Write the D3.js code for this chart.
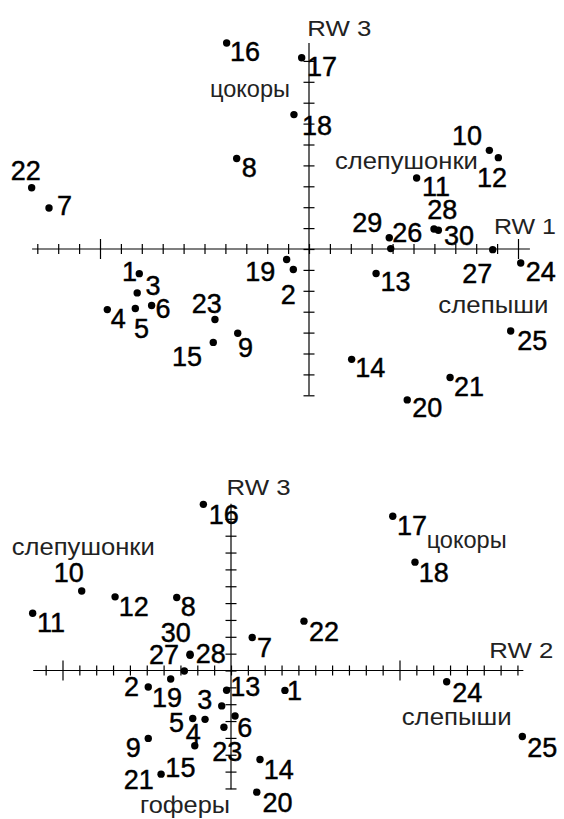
<!DOCTYPE html>
<html>
<head>
<meta charset="utf-8">
<script src="https://cdn.jsdelivr.net/npm/d3@7"></script>
<style>
  html, body { margin: 0; padding: 0; background: #fff; }
  svg { display: block; }
</style>
</head>
<body>
<svg id="chart" width="564" height="819"></svg>
<script>
// ---------------- DATA ----------------
const ids = [1,2,3,4,5,6,7,8,9,10,11,12,13,14,15,16,17,18,19,20,21,22,23,24,25,26,27,28,29,30];
// RW1 (top panel, horizontal)
const rw1 = [-8.12,-0.75,-8.22,-9.65,-8.31,-7.53,-12.44,-3.46,-3.41,8.63,5.15,9.06,3.21,2.04,-4.58,-3.94,-0.35,-0.72,-1.07,4.70,6.75,-13.27,-4.50,10.13,9.65,3.91,8.79,5.98,3.84,6.19];
// RW2 (bottom panel, horizontal); null = not shown
const rw2 = [3.20,-4.91,-0.55,-1.54,-2.27,0.24,1.26,-3.22,-4.91,-8.86,-11.77,-6.88,-0.26,1.72,-2.15,-1.64,9.60,10.92,-3.58,1.53,-4.15,4.33,-0.42,12.80,17.29,null,-2.77,-2.43,null,-2.43];
// RW3 (vertical in both panels)
const rw3 = [-1.18,-0.98,-2.10,-2.90,-2.85,-2.70,1.96,4.33,-4.03,4.72,3.40,4.37,-1.17,-5.28,-4.47,9.86,9.15,6.43,-0.50,-7.22,-6.15,2.93,-3.37,-0.67,-3.92,0.02,-0.03,0.96,0.54,0.90];

// axis tick values
const topXTicks = d3.range(-13, 11);
const topYTicks = d3.range(-7, 10);
const botXTicks = d3.range(-11, 18);
const botYTicks = d3.range(-7, 10);
const majorTicks = [-10, 10];

// group / axis annotations
const topNoteText = ["RW 3", "RW 1", "цокоры", "слепушонки", "слепыши"];
const topNoteX    = [-0.08, 8.85, -4.74, 1.24, 6.19];
const topNoteY    = [10.19, 0.72, 7.29, 3.81, -3.06];
const botNoteText = ["RW 3", "RW 2", "слепушонки", "цокоры", "слепыши", "гоферы"];
const botNoteX    = [-0.26, 15.33, -13.01, 11.61, 10.13, -5.40];
const botNoteY    = [10.42, 0.72, 6.85, 7.25, -3.23, -8.47];

// ---------------- LAYOUT ----------------
const noteWidth = {"RW 3":64, "RW 1":62, "RW 2":64, "цокоры":80, "слепушонки":143, "слепыши":110, "гоферы":90};

// label nudges (px, relative to the dot)
const topNudge = [[-17.3,7.7],[-12.6,34.3],[8.4,1.7],[3.4,18.3],[-1.3,29],[4,13],[8,6.7],[5,18.7],[0.3,24],[-37.3,-5.7],
  [5.3,18.4],[-21.3,29.4],[4.3,17.4],[3.6,17.3],[-41.3,24],[3.3,18.4],[5.3,18.4],[8,20],[-41.4,21.7],[5,17.3],
  [4,18.4],[-21,-7.6],[-23.3,-6.7],[5,18.4],[6.6,19],[1.6,-6.8],[-30.4,33.3],[-6.7,-10],[-37,-6],[5.7,15]];
const botNudge = [[2,10],[-24.3,9],[-24.4,2.7],[-19.3,23.4],[-23.7,13],[2.3,21.4],[4.7,19.4],[4,18.3],[-22.6,19],[-28,-9],
  [4.3,19],[3.7,19.4],[3.6,5.7],[3.7,20],[-29.4,30.7],[5.4,19.3],[4.3,19],[3.7,20],[-18.7,28.4],[5.6,20],
  [-37.3,15],[5,20],[-11.7,33.3],[5.6,20],[5,20],null,[-35.3,-7.4],[5.7,8.4],null,[-29.3,-13.3]];

const svg = d3.select("#chart");
svg.append("rect").attr("width", 564).attr("height", 819).attr("fill", "#fff");

const FONT = "'Liberation Sans', Arial, sans-serif";

function panel(cfg) {
  const g = svg.append("g");
  const x = d3.scaleLinear().domain(cfg.xDomain).range(cfg.xRange);
  const y = d3.scaleLinear().domain(cfg.yDomain).range(cfg.yRange);
  const x0 = x(0), y0 = y(0);

  // axis lines
  g.append("line").attr("x1", x(cfg.xLine[0])).attr("x2", x(cfg.xLine[1]))
    .attr("y1", y0).attr("y2", y0).attr("stroke", "#000").attr("stroke-width", 1.2);
  g.append("line").attr("y1", y(cfg.yLine[0])).attr("y2", y(cfg.yLine[1]))
    .attr("x1", x0).attr("x2", x0).attr("stroke", "#000").attr("stroke-width", 1.2);

  // ticks on both sides, via d3 axes
  function ticks(axisFn, scale, values, size, tr) {
    const a = g.append("g").attr("transform", tr)
      .call(axisFn(scale).tickValues(values).tickSize(size).tickFormat(""));
    a.select(".domain").remove();
    a.selectAll("line").attr("stroke", "#000").attr("stroke-width", 1.2);
  }
  const minorX = cfg.xTicks.filter(v => !majorTicks.includes(v));
  ticks(d3.axisBottom, x, minorX, 5, `translate(0,${y0})`);
  ticks(d3.axisTop, x, minorX, 5, `translate(0,${y0})`);
  ticks(d3.axisBottom, x, majorTicks, 10, `translate(0,${y0})`);
  ticks(d3.axisTop, x, majorTicks, 10, `translate(0,${y0})`);
  ticks(d3.axisLeft, y, cfg.yTicks, 5.5, `translate(${x0},0)`);
  ticks(d3.axisRight, y, cfg.yTicks, 5.5, `translate(${x0},0)`);

  // points
  const pts = ids.map((id, i) => ({id, xv: cfg.xs[i], yv: cfg.ys[i], nudge: cfg.nudge[i]}))
    .filter(d => d.xv !== null && d.nudge !== null);

  g.selectAll("circle.pt").data(pts).join("circle")
    .attr("class", "pt")
    .attr("cx", d => x(d.xv)).attr("cy", d => y(d.yv))
    .attr("r", 3.7).attr("fill", "#000");

  g.selectAll("text.lab").data(pts).join("text")
    .attr("class", "lab")
    .attr("x", d => x(d.xv) + d.nudge[0])
    .attr("y", d => y(d.yv) + d.nudge[1])
    .attr("font-family", FONT).attr("font-size", 27)
    .attr("fill", "#000").attr("stroke", "#000").attr("stroke-width", 0.45)
    .text(d => d.id);

  // notes
  cfg.noteText.forEach((t, i) => {
    const isRW = t.startsWith("RW");
    g.append("text")
      .attr("x", x(cfg.noteX[i])).attr("y", y(cfg.noteY[i]))
      .attr("font-family", FONT)
      .attr("font-size", isRW ? 22.5 : 24)
      .attr("fill", "#222")
      .attr("textLength", noteWidth[t])
      .attr("lengthAdjust", "spacingAndGlyphs")
      .text(t);
  });
}

// top panel: origin (309,249), 20.9 px per unit
panel({
  xDomain: [-309/20.9, (564-309)/20.9], xRange: [0, 564],
  yDomain: [249/20.9, -(420-249)/20.9], yRange: [0, 420],
  xLine: [-13.25, 10.57], yLine: [-7.0, 9.86],
  xTicks: topXTicks, yTicks: topYTicks,
  xs: rw1, ys: rw3, nudge: topNudge,
  noteText: topNoteText, noteX: topNoteX, noteY: topNoteY
});

// bottom panel: origin (231,670.5), 16.85 px per unit
panel({
  xDomain: [-231/16.85, (564-231)/16.85], xRange: [0, 564],
  yDomain: [(670.5-440)/16.85, -(819-670.5)/16.85], yRange: [440, 819],
  xLine: [-11.74, 17.35], yLine: [-7.05, 9.9],
  xTicks: botXTicks, yTicks: botYTicks,
  xs: rw2, ys: rw3, nudge: botNudge,
  noteText: botNoteText, noteX: botNoteX, noteY: botNoteY
});
</script>
</body>
</html>
